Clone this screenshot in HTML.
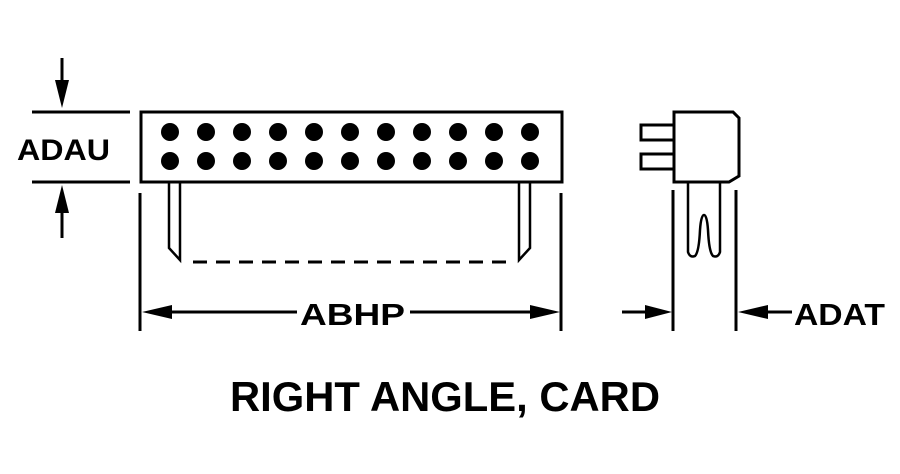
<!DOCTYPE html>
<html><head><style>html,body{margin:0;padding:0;background:#fff}svg{display:block}</style></head>
<body>
<svg width="900" height="474" viewBox="0 0 900 474" xmlns="http://www.w3.org/2000/svg" font-family="Liberation Sans, Arial, sans-serif" font-weight="bold">
<g stroke="#000" stroke-width="3" fill="none">
<!-- left dims -->
<line x1="32" y1="112" x2="130" y2="112"/>
<line x1="32" y1="182" x2="130" y2="182"/>
<line x1="62" y1="58" x2="62" y2="85"/>
<line x1="62" y1="210" x2="62" y2="238"/>
<!-- main body -->
<rect x="141" y="112" width="421" height="70"/>
<!-- pins -->
<path d="M169 183 V248 L180 260 V183" stroke-width="2.5"/>
<path d="M519 183 V260 L530 248 V183" stroke-width="2.5"/>
<line x1="193" y1="262" x2="515" y2="262" stroke-dasharray="14,9"/>
<!-- ABHP dims -->
<line x1="140" y1="193" x2="140" y2="331"/>
<line x1="561" y1="193" x2="561" y2="331"/>
<line x1="170" y1="312" x2="297" y2="312"/>
<line x1="410" y1="312" x2="530" y2="312"/>
<!-- side view -->
<path d="M674 112 H733 L739 118 V176 L729 182 H674 Z"/>
<rect x="641" y="125" width="33" height="15"/>
<rect x="641" y="154" width="33" height="15"/>
<path d="M688 183 V252 Q690 258 695 256 Q699 252 700 230 Q701 215 704 215 Q707 215 708 230 Q709 252 713 256 Q718 258 720 252 V183" stroke-width="2.5"/>
<line x1="673" y1="190" x2="673" y2="331"/>
<line x1="736" y1="190" x2="736" y2="331"/>
<line x1="622" y1="312" x2="650" y2="312"/>
<line x1="765" y1="312" x2="792" y2="312"/>
</g>
<g fill="#000">
<polygon points="55,80 69,80 62,108"/>
<polygon points="55,213 69,213 62,185"/>
<polygon points="142,312 172,305 172,319"/>
<polygon points="560,312 530,305 530,319"/>
<polygon points="672,312 645,305 645,319"/>
<polygon points="738,312 768,305 768,319"/>
<g id="dots">
<circle cx="170" cy="132" r="9"/><circle cx="206" cy="132" r="9"/><circle cx="242" cy="132" r="9"/><circle cx="278" cy="132" r="9"/><circle cx="314" cy="132" r="9"/><circle cx="350" cy="132" r="9"/><circle cx="386" cy="132" r="9"/><circle cx="422" cy="132" r="9"/><circle cx="458" cy="132" r="9"/><circle cx="494" cy="132" r="9"/><circle cx="530" cy="132" r="9"/>
<circle cx="170" cy="161" r="9"/><circle cx="206" cy="161" r="9"/><circle cx="242" cy="161" r="9"/><circle cx="278" cy="161" r="9"/><circle cx="314" cy="161" r="9"/><circle cx="350" cy="161" r="9"/><circle cx="386" cy="161" r="9"/><circle cx="422" cy="161" r="9"/><circle cx="458" cy="161" r="9"/><circle cx="494" cy="161" r="9"/><circle cx="530" cy="161" r="9"/>
</g>
<text x="17" y="160" font-size="30" textLength="93" lengthAdjust="spacingAndGlyphs">ADAU</text>
<text x="300" y="325" font-size="31" textLength="105" lengthAdjust="spacingAndGlyphs">ABHP</text>
<text x="794" y="325" font-size="31" textLength="91" lengthAdjust="spacingAndGlyphs">ADAT</text>
<text x="230" y="411" font-size="42" textLength="430" lengthAdjust="spacingAndGlyphs">RIGHT ANGLE, CARD</text>
</g>
</svg>
</body></html>
